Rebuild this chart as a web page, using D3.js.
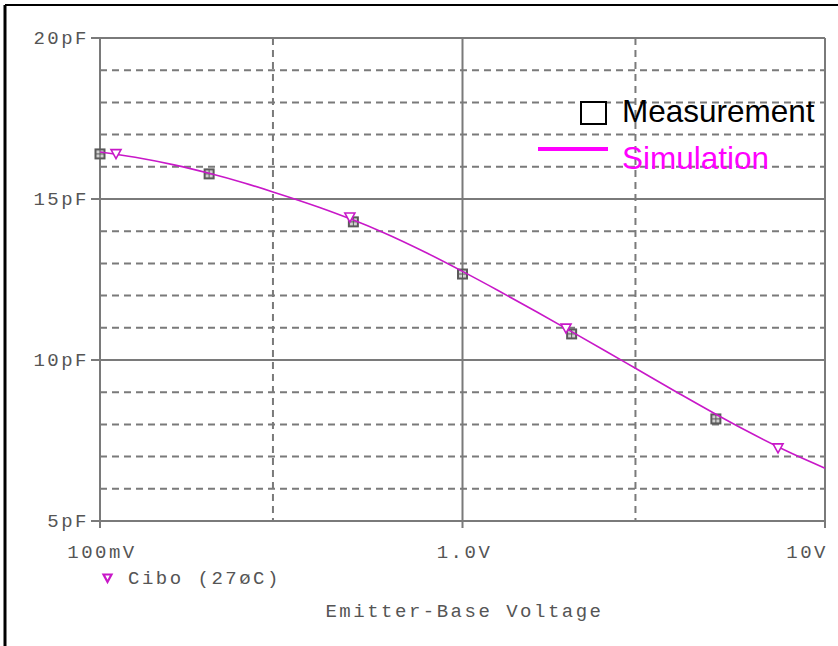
<!DOCTYPE html>
<html>
<head>
<meta charset="utf-8">
<script src="https://cdn.jsdelivr.net/npm/d3@7"></script>
<style>
  html, body { margin: 0; padding: 0; background: #fff; }
  svg { display: block; }
</style>
</head>
<body>
<script>
// ---- data ----
const simV = [0.1, 0.125, 0.16, 0.2, 0.25, 0.3, 0.4, 0.5, 0.6, 0.8, 1.0, 1.25, 1.6, 2.0, 2.5, 3.0, 4.0, 5.0, 6.0, 8.0, 10];
const simC = [16.46, 16.295, 16.059, 15.797, 15.497, 15.220, 14.752, 14.345, 13.977, 13.315, 12.753, 12.167, 11.497, 10.882, 10.257, 9.742, 8.930, 8.315, 7.832, 7.126, 6.641];
const measV = [0.1, 0.2, 0.5, 1.0, 2.0, 5.0];
const measC = [16.40, 15.78, 14.29, 12.67, 10.81, 8.17];
const markV = [0.1107, 0.489, 1.93, 7.42];
const markC = [16.41, 14.44, 10.99, 7.27];
const yTickVals = [5, 10, 15, 20];
const yTickLabels = ["5pF", "10pF", "15pF", "20pF"];
const yMinor = [6, 7, 8, 9, 11, 12, 13, 14, 16, 17, 18, 19];
const xTickVals = [0.1, 1, 10];
const xTickLabels = ["100mV", "1.0V", "10V"];
const xMinor = [0.3, 3];
const xTitle = "Emitter-Base Voltage";
const traceLabel = "Cibo (27\u00f8C)";
const legendLabels = ["Measurement", "Simulation"];

// ---- layout ----
const W = 838, H = 646;
const L = 100, R = 825, T = 38, B = 521;
const gridCol = "#7a7a7a", textCol = "#555555", traceCol = "#c818c8";
const monoFont = "'Liberation Mono', 'DejaVu Sans Mono', monospace";
const FS = 19, LS = 2.5;

const svg = d3.select("body").append("svg").attr("width", W).attr("height", H);

const x = d3.scaleLog().domain([0.1, 10]).range([L, R]);
const y = d3.scaleLinear().domain([5, 20]).range([B, T]);

// outer border (top & left)
svg.append("line").attr("x1", 5).attr("y1", 5).attr("x2", W).attr("y2", 5)
  .attr("stroke", "#000").attr("stroke-width", 2);
svg.append("line").attr("x1", 5).attr("y1", 5).attr("x2", 5).attr("y2", H)
  .attr("stroke", "#000").attr("stroke-width", 3);

// minor dashed grid
svg.append("g").selectAll("line").data(yMinor).join("line")
  .attr("x1", L).attr("x2", R).attr("y1", d => y(d)).attr("y2", d => y(d))
  .attr("stroke", gridCol).attr("stroke-width", 2).attr("stroke-dasharray", "7,5");
svg.append("g").selectAll("line").data(xMinor).join("line")
  .attr("x1", d => x(d)).attr("x2", d => x(d)).attr("y1", T).attr("y2", B)
  .attr("stroke", gridCol).attr("stroke-width", 2).attr("stroke-dasharray", "7,5");

// major solid grid + frame
svg.append("g").selectAll("line").data(yTickVals).join("line")
  .attr("x1", L - 9).attr("x2", R).attr("y1", d => y(d)).attr("y2", d => y(d))
  .attr("stroke", gridCol).attr("stroke-width", 2);
svg.append("g").selectAll("line").data(xTickVals).join("line")
  .attr("x1", d => x(d)).attr("x2", d => x(d)).attr("y1", T).attr("y2", B + 7)
  .attr("stroke", gridCol).attr("stroke-width", 2);

// y labels
svg.append("g").selectAll("text").data(yTickVals).join("text")
  .attr("x", 89).attr("y", d => y(d) + 6)
  .attr("text-anchor", "end")
  .attr("font-family", monoFont).attr("font-size", FS).attr("letter-spacing", LS)
  .attr("fill", textCol).text((d, i) => yTickLabels[i]);

// x labels
svg.append("g").selectAll("text").data(xTickVals).join("text")
  .attr("x", (d, i) => i === 2 ? x(d) + 3 : x(d) + 2)
  .attr("y", 558)
  .attr("text-anchor", (d, i) => i === 2 ? "end" : "middle")
  .attr("font-family", monoFont).attr("font-size", FS).attr("letter-spacing", LS)
  .attr("fill", textCol).text((d, i) => xTickLabels[i]);

// x title
svg.append("text").attr("x", (L + R) / 2 + 2).attr("y", 617)
  .attr("text-anchor", "middle")
  .attr("font-family", monoFont).attr("font-size", FS).attr("letter-spacing", LS)
  .attr("fill", textCol).text(xTitle);

// trace legend
const triPath = "M-5,-4 L5,-4 L0,5 Z";
svg.append("path").attr("d", "M-4,-3.5 L4,-3.5 L0,4 Z")
  .attr("transform", "translate(107.5,578)")
  .attr("fill", "none").attr("stroke", traceCol).attr("stroke-width", 2.2);
svg.append("text").attr("x", 128).attr("y", 584)
  .attr("font-family", monoFont).attr("font-size", FS).attr("letter-spacing", LS)
  .attr("fill", textCol).text(traceLabel);

// measurement squares
const meas = measV.map((v, i) => ({ v, c: measC[i] }));
const sq = svg.append("g").selectAll("g").data(meas).join("g")
  .attr("transform", d => `translate(${x(d.v)},${y(d.c)})`);
sq.append("rect").attr("x", -5.5).attr("y", -5.5).attr("width", 11).attr("height", 11)
  .attr("fill", "#5a5a5a");
[[-3.5, -3.5], [0.5, -3.5], [-3.5, 0.5], [0.5, 0.5]].forEach(([dx, dy]) => {
  sq.append("rect").attr("x", dx).attr("y", dy).attr("width", 3).attr("height", 3)
    .attr("fill", "#d0d0d0");
});

// simulation curve
const sim = simV.map((v, i) => ({ v, c: simC[i] }));
svg.append("path").datum(sim)
  .attr("d", d3.line().x(d => x(d.v)).y(d => y(d.c)).curve(d3.curveMonotoneX))
  .attr("fill", "none").attr("stroke", traceCol).attr("stroke-width", 1.6);

// trace markers
const marks = markV.map((v, i) => ({ v, c: markC[i] }));
svg.append("g").selectAll("path").data(marks).join("path")
  .attr("d", triPath)
  .attr("transform", d => `translate(${x(d.v)},${y(d.c)})`)
  .attr("fill", "#fff").attr("stroke", traceCol).attr("stroke-width", 1.6);

// legend (top right)
svg.append("rect").attr("x", 581).attr("y", 102).attr("width", 25).attr("height", 22)
  .attr("fill", "#fff").attr("stroke", "#000").attr("stroke-width", 2);
svg.append("text").attr("x", 622).attr("y", 122)
  .attr("font-family", "'Liberation Sans', Arial, sans-serif").attr("font-size", 31.5)
  .attr("fill", "#000").text(legendLabels[0]);
svg.append("line").attr("x1", 538).attr("x2", 608).attr("y1", 149).attr("y2", 149)
  .attr("stroke", "#ff00ff").attr("stroke-width", 4);
svg.append("text").attr("x", 622).attr("y", 169)
  .attr("font-family", "'Liberation Sans', Arial, sans-serif").attr("font-size", 31.5)
  .attr("fill", "#ff00ff").text(legendLabels[1]);
</script>
</body>
</html>
